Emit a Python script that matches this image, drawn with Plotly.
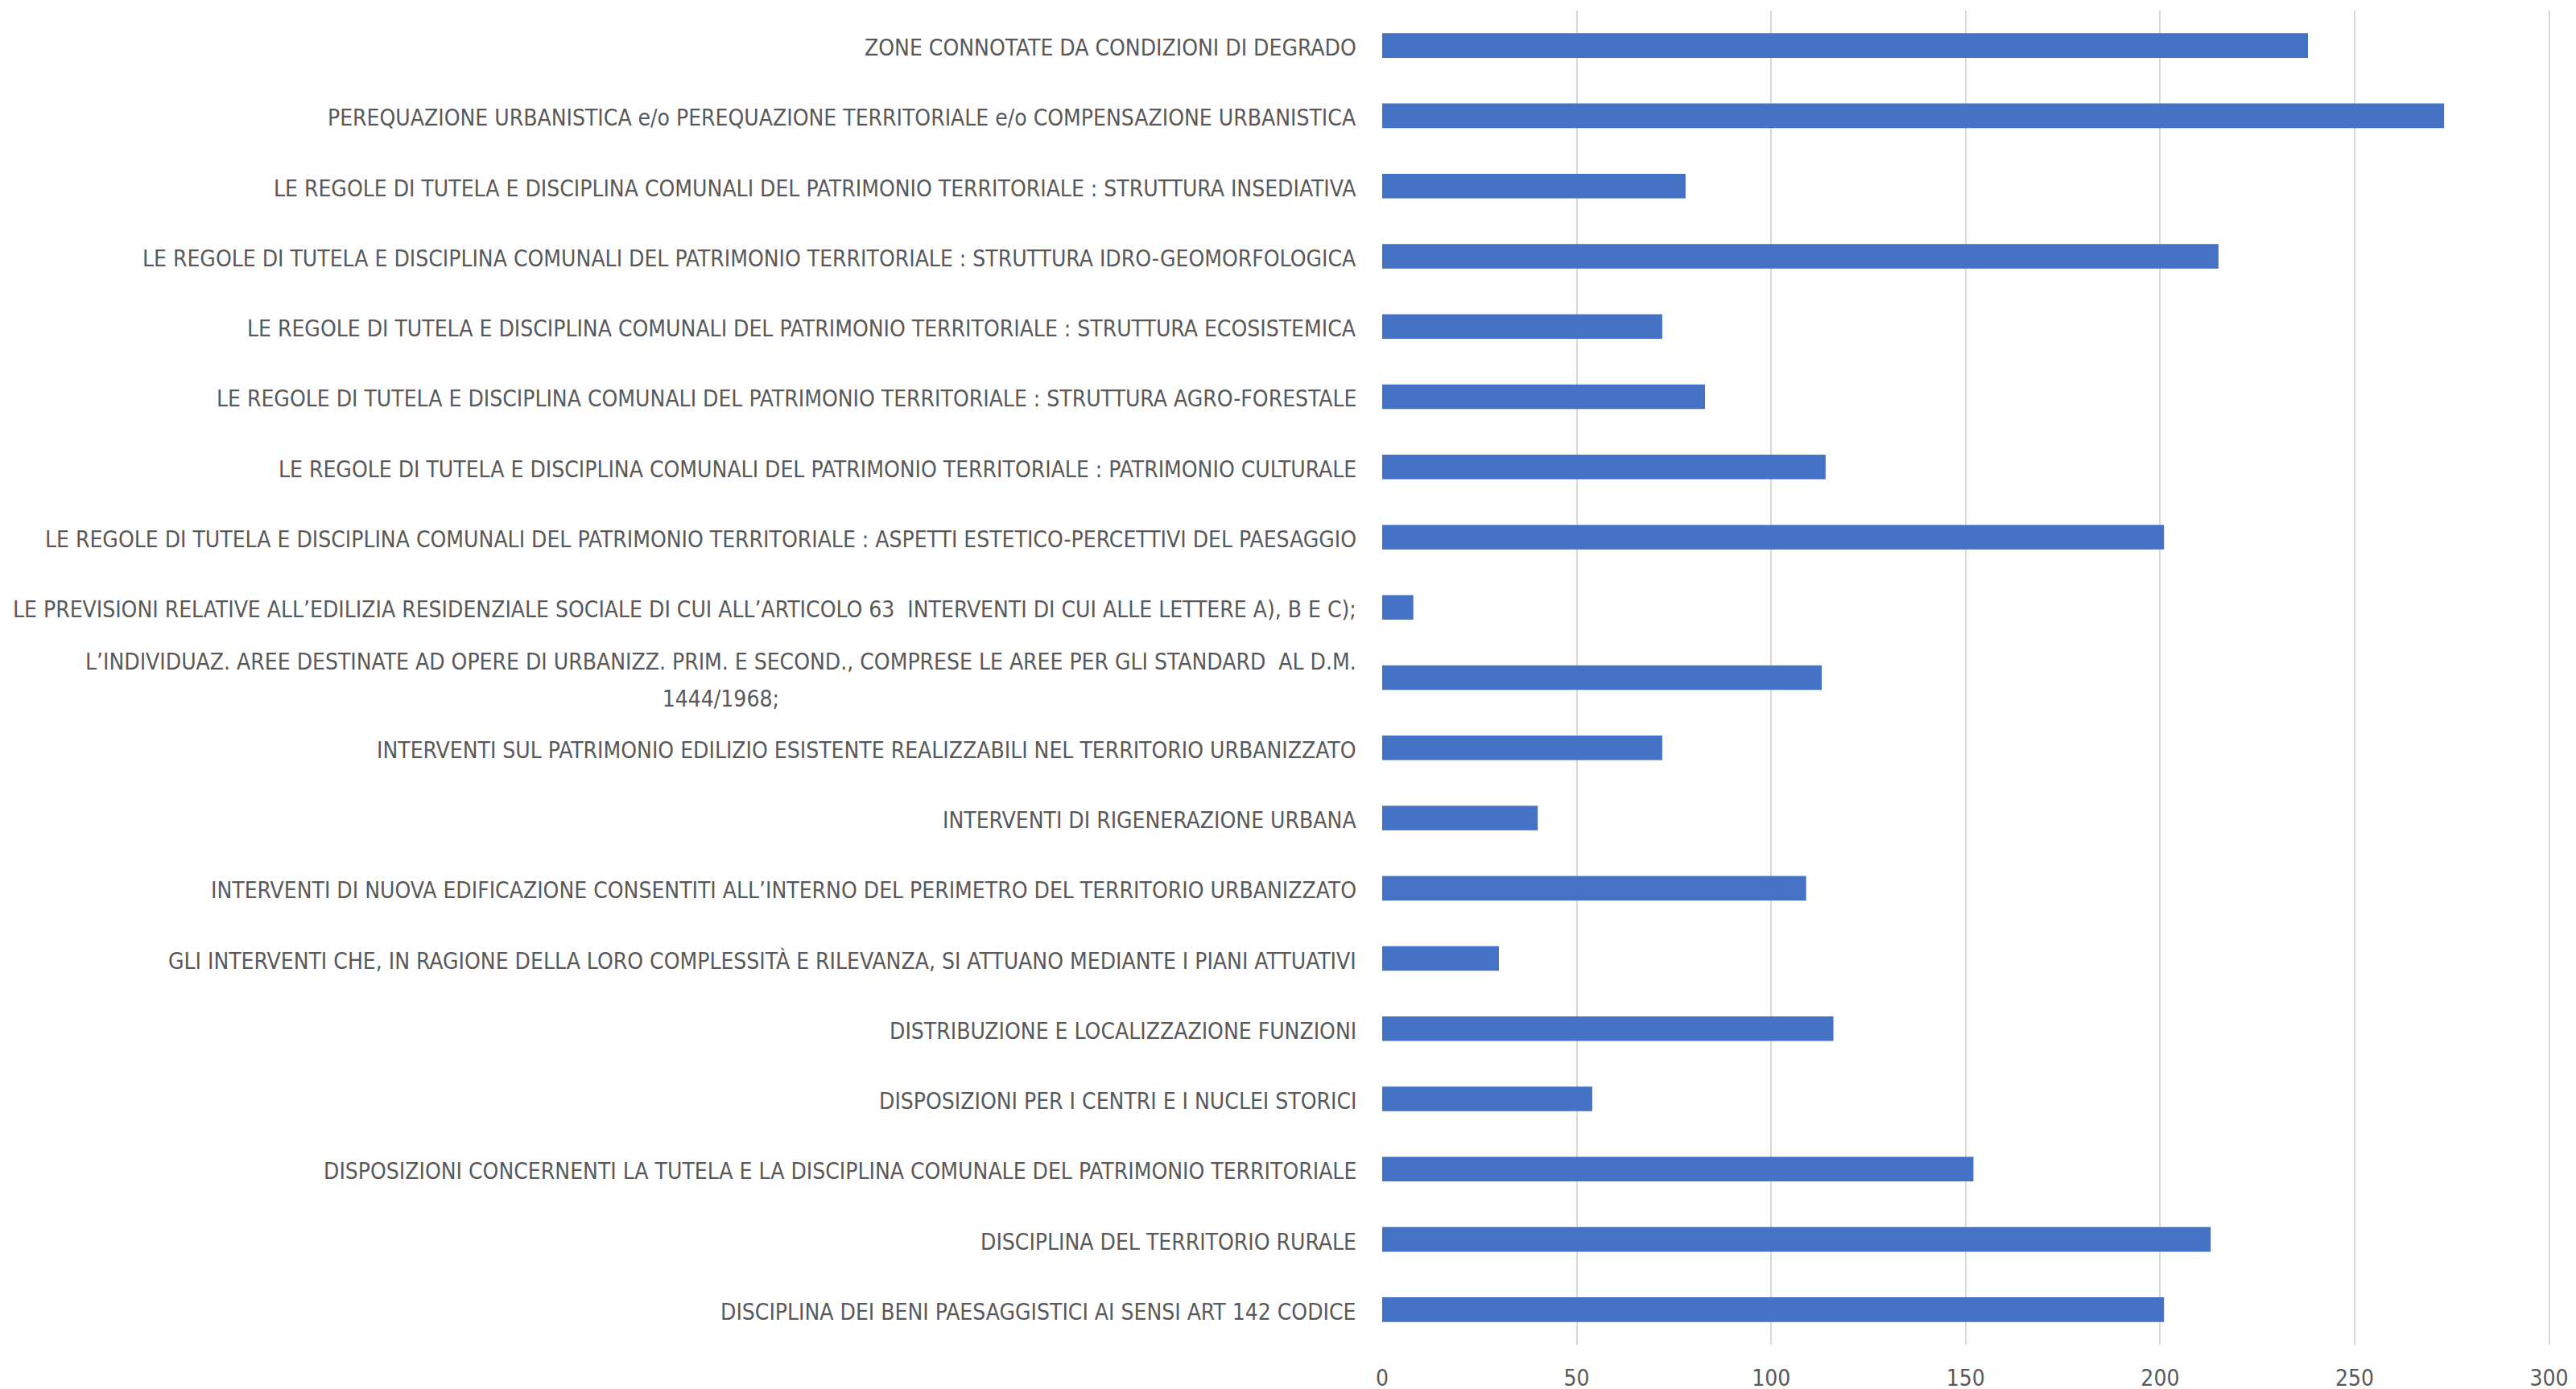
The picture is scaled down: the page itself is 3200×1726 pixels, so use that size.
import plotly.graph_objects as go

categories = [
    "ZONE CONNOTATE DA CONDIZIONI DI DEGRADO",
    "PEREQUAZIONE URBANISTICA e/o PEREQUAZIONE TERRITORIALE e/o COMPENSAZIONE URBANISTICA",
    "LE REGOLE DI TUTELA E DISCIPLINA COMUNALI DEL PATRIMONIO TERRITORIALE : STRUTTURA INSEDIATIVA",
    "LE REGOLE DI TUTELA E DISCIPLINA COMUNALI DEL PATRIMONIO TERRITORIALE : STRUTTURA IDRO-GEOMORFOLOGICA",
    "LE REGOLE DI TUTELA E DISCIPLINA COMUNALI DEL PATRIMONIO TERRITORIALE : STRUTTURA ECOSISTEMICA",
    "LE REGOLE DI TUTELA E DISCIPLINA COMUNALI DEL PATRIMONIO TERRITORIALE : STRUTTURA AGRO-FORESTALE",
    "LE REGOLE DI TUTELA E DISCIPLINA COMUNALI DEL PATRIMONIO TERRITORIALE : PATRIMONIO CULTURALE",
    "LE REGOLE DI TUTELA E DISCIPLINA COMUNALI DEL PATRIMONIO TERRITORIALE : ASPETTI ESTETICO-PERCETTIVI DEL PAESAGGIO",
    "LE PREVISIONI RELATIVE ALL\u2019EDILIZIA RESIDENZIALE SOCIALE DI CUI ALL\u2019ARTICOLO 63  INTERVENTI DI CUI ALLE LETTERE A), B E C);",
    "L\u2019INDIVIDUAZ. AREE DESTINATE AD OPERE DI URBANIZZ. PRIM. E SECOND., COMPRESE LE AREE PER GLI STANDARD  AL D.M.<br>1444/1968;",
    "INTERVENTI SUL PATRIMONIO EDILIZIO ESISTENTE REALIZZABILI NEL TERRITORIO URBANIZZATO",
    "INTERVENTI DI RIGENERAZIONE URBANA",
    "INTERVENTI DI NUOVA EDIFICAZIONE CONSENTITI ALL\u2019INTERNO DEL PERIMETRO DEL TERRITORIO URBANIZZATO",
    "GLI INTERVENTI CHE, IN RAGIONE DELLA LORO COMPLESSIT\u00c0 E RILEVANZA, SI ATTUANO MEDIANTE I PIANI ATTUATIVI",
    "DISTRIBUZIONE E LOCALIZZAZIONE FUNZIONI",
    "DISPOSIZIONI PER I CENTRI E I NUCLEI STORICI",
    "DISPOSIZIONI CONCERNENTI LA TUTELA E LA DISCIPLINA COMUNALE DEL PATRIMONIO TERRITORIALE",
    "DISCIPLINA DEL TERRITORIO RURALE",
    "DISCIPLINA DEI BENI PAESAGGISTICI AI SENSI ART 142 CODICE",
]
values = [238, 273, 78, 215, 72, 83, 114, 201, 8, 113, 72, 40, 109, 30, 116, 54, 152, 213, 201]
x_ticks = [0, 50, 100, 150, 200, 250, 300]

FONT = "Liberation Sans Narrow, Arial Narrow, DejaVu Sans Condensed, sans-serif"
GREY = "#595959"

fig = go.Figure(
    go.Bar(
        x=values,
        y=categories,
        orientation="h",
        marker=dict(color="#4472C4", line=dict(width=0)),
        width=0.35,
    )
)

for cat in categories:
    styled = "<br>".join(
        f"<span style='font-size:28px'>{line}</span>" for line in cat.split("<br>")
    )
    fig.add_annotation(
        x=0, xref="paper", y=cat, yref="y",
        text=styled, showarrow=False,
        xanchor="right", yanchor="middle", align="center",
        xshift=-30, yshift=-3,
        font=dict(family=FONT, size=35, color=GREY),
    )

fig.update_layout(
    width=3200, height=1726,
    margin=dict(l=1709, r=39, t=5, b=54),
    paper_bgcolor="white", plot_bgcolor="white",
    showlegend=False,
)
fig.update_yaxes(
    categoryorder="array", categoryarray=categories[::-1],
    showticklabels=False, showgrid=False, zeroline=False,
    showline=False, ticks="",
)
fig.update_xaxes(
    range=[0, 300.5], tickvals=x_ticks,
    showgrid=True, gridcolor="#D9D9D9", gridwidth=2,
    zeroline=False, showline=False, ticks="",
    tickfont=dict(family=FONT, size=28, color=GREY),
    ticklabelstandoff=22,
)

fig.write_html("out.html")
